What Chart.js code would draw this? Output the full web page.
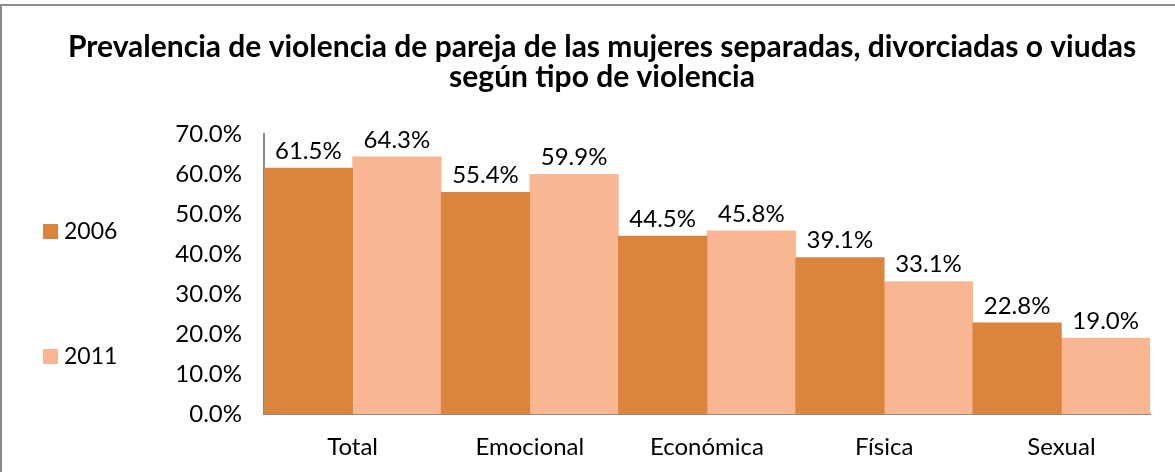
<!DOCTYPE html>
<html>
<head>
<meta charset="utf-8">
<script src="https://cdn.jsdelivr.net/npm/chart.js@4"></script>
<style>
  html, body { margin: 0; padding: 0; background: #fff; overflow: hidden; }
  canvas { display: block; }
</style>
</head>
<body>
<canvas id="chart" width="1175" height="472"></canvas>
<script>
// chart data
const categories = ['Total', 'Emocional', 'Económica', 'Física', 'Sexual'];
const values2006 = [61.5, 55.4, 44.5, 39.1, 22.8];
const values2011 = [64.3, 59.9, 45.8, 33.1, 19.0];
const seriesNames = ['2006', '2011'];
const colors = ['#da843e', '#f9b692'];

const titleLines = [
  'Prevalencia de violencia de pareja de las mujeres separadas, divorciadas o viudas',
  'según tipo de violencia'
];

const FONT = 'Lato, "Open Sans", sans-serif';

// outer frame (only top and left edges are inside the picture)
const frame = {
  id: 'frame',
  beforeDraw(chart) {
    const ctx = chart.ctx;
    ctx.save();
    ctx.strokeStyle = '#8c8c8c';
    ctx.lineWidth = 2;
    ctx.beginPath();
    ctx.moveTo(1, chart.height);
    ctx.lineTo(1, 5);
    ctx.lineTo(chart.width, 5);
    ctx.stroke();
    ctx.restore();
  }
};

// title, legend and value labels drawn on the canvas
const extras = {
  id: 'extras',
  afterDatasetsDraw(chart) {
    const ctx = chart.ctx;
    ctx.save();
    ctx.fillStyle = '#000';

    // value labels
    ctx.font = '24px ' + FONT;
    ctx.textAlign = 'center';
    ctx.textBaseline = 'bottom';
    chart.data.datasets.forEach((ds, i) => {
      chart.getDatasetMeta(i).data.forEach((bar, j) => {
        ctx.fillText(ds.data[j].toFixed(1) + '%', bar.x, bar.y - 5);
      });
    });

    // title
    ctx.font = 'bold 30px ' + FONT;
    ctx.textBaseline = 'middle';
    ctx.fillText(titleLines[0], 602, 47);
    ctx.fillText(titleLines[1], 602, 77);

    // legend
    const legendY = [231, 356];
    ctx.font = '23px ' + FONT;
    ctx.textAlign = 'left';
    seriesNames.forEach((name, i) => {
      ctx.fillStyle = colors[i];
      ctx.fillRect(43, legendY[i] - 7, 15, 15);
      ctx.fillStyle = '#000';
      ctx.fillText(name, 64, legendY[i] + 1);
    });
    ctx.restore();
  }
};

new Chart(document.getElementById('chart'), {
  type: 'bar',
  data: {
    labels: categories,
    datasets: [
      { label: seriesNames[0], data: values2006, backgroundColor: colors[0] },
      { label: seriesNames[1], data: values2011, backgroundColor: colors[1] }
    ]
  },
  options: {
    responsive: false,
    animation: false,
    events: [],
    layout: { padding: { top: 134, right: 25, left: 0, bottom: 0 } },
    datasets: { bar: { categoryPercentage: 1, barPercentage: 1 } },
    scales: {
      x: {
        grid: { display: false, drawTicks: false },
        border: { display: true, color: '#8c8c8c', width: 2 },
        ticks: { color: '#000', font: { family: FONT, size: 24 }, padding: 19 },
        afterFit: (scale) => { scale.height = 58; }
      },
      y: {
        min: 0,
        max: 70,
        grid: { display: false, drawTicks: false },
        border: { display: true, color: '#8c8c8c', width: 2 },
        ticks: {
          stepSize: 10,
          color: '#000',
          font: { family: FONT, size: 24 },
          padding: 22,
          callback: (v) => v.toFixed(1) + '%'
        },
        afterFit: (scale) => { scale.width = 264; }
      }
    },
    plugins: {
      legend: { display: false },
      tooltip: { enabled: false },
      title: { display: false }
    }
  },
  plugins: [frame, extras]
});
</script>
</body>
</html>
